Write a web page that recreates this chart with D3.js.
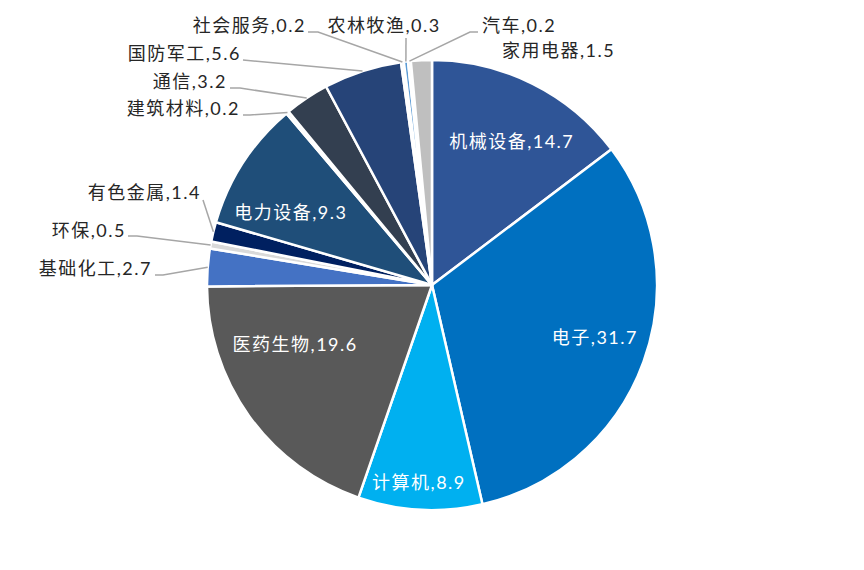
<!DOCTYPE html>
<html>
<head>
<meta charset="utf-8">
<script src="https://cdn.jsdelivr.net/npm/d3@7/dist/d3.min.js"></script>
<style>
html,body{margin:0;padding:0;background:#fff;}
svg text{font-family:"Lato","Noto Sans CJK SC",sans-serif;}
</style>
</head>
<body>
<svg id="chart" width="864" height="570"></svg>
<script>
// ---- data ----
const categories = ["机械设备","电子","计算机","医药生物","基础化工","环保","有色金属","电力设备","建筑材料","通信","国防军工","社会服务","农林牧渔","汽车","家用电器"];
const values = [14.7,31.7,8.9,19.6,2.7,0.5,1.4,9.3,0.2,3.2,5.6,0.2,0.3,0.2,1.5];
const valueLabels = ["14.7","31.7","8.9","19.6","2.7","0.5","1.4","9.3","0.2","3.2","5.6","0.2","0.3","0.2","1.5"];

// ---- styles / layout ----
const colors = ["#2F5597","#0070C0","#00B0F0","#595959","#4472C4","#D9D9D9","#002060","#1F4E79","#DEEBF7","#333F50","#264478","#F2F2F2","#5B9BD5","#F2F2F2","#BFBFBF"];
const cx = 432, cy = 285, R = 225;
// inside labels: polar placement (radius, angle in degrees clockwise from top)
const insideLayout = {
  "机械设备":{r:165,a:28.9},
  "电子":{r:171,a:107.7},
  "计算机":{r:197,a:183.8},
  "医药生物":{r:149,a:246.7},
  "电力设备":{r:159,a:297.4}
};
// outside labels: text anchor point, anchor side, leader start / elbow
const outsideLayout = {
  "基础化工":{tx:152,ty:268,anchor:"end",line:[[155,275],[163,275]]},
  "环保":{tx:126,ty:230,anchor:"end",line:[[128,236],[137,236]]},
  "有色金属":{tx:201,ty:192,anchor:"end",line:[[203,200]]},
  "建筑材料":{tx:240,ty:108,anchor:"end",line:[[243,115],[250,115]]},
  "通信":{tx:227,ty:81,anchor:"end",line:[[230,88],[240,88]]},
  "国防军工":{tx:241,ty:53,anchor:"end",line:[[243,60]]},
  "社会服务":{tx:306,ty:25,anchor:"end",line:[[308,32],[318,32]]},
  "农林牧渔":{tx:384,ty:25,anchor:"middle",line:[[406,38]]},
  "汽车":{tx:482,ty:25,anchor:"start",line:[[478,32],[470,32]]},
  "家用电器":{tx:502,ty:50,anchor:"start",line:null}
};

const svg = d3.select("#chart");
const g = svg.append("g").attr("transform",`translate(${cx},${cy})`);

const data = categories.map((c,i)=>({name:c,value:values[i],label:valueLabels[i],color:colors[i]}));
const pie = d3.pie().sort(null).value(d=>d.value).startAngle(0).endAngle(2*Math.PI);
const arc = d3.arc().innerRadius(0).outerRadius(R);
const arcs = pie(data);

g.selectAll("path.slice").data(arcs).enter().append("path")
  .attr("class","slice")
  .attr("d",arc)
  .attr("fill",d=>d.data.color)
  .attr("stroke","#fff")
  .attr("stroke-width",2.5)
  .attr("stroke-linejoin","round");

const polar = (r,a)=>[Math.sin(a)*r, -Math.cos(a)*r];

// inside labels
arcs.filter(d=>insideLayout[d.data.name]).forEach(d=>{
  const L = insideLayout[d.data.name];
  const [x,y] = polar(L.r, L.a*Math.PI/180);
  g.append("text")
    .attr("x",x).attr("y",y)
    .attr("text-anchor","middle")
    .attr("dominant-baseline","central")
    .attr("fill","#fff")
    .attr("font-size",18)
    .attr("letter-spacing",1.5)
    .text(d.data.name+","+d.data.label);
});

// outside labels
arcs.filter(d=>outsideLayout[d.data.name]).forEach(d=>{
  const L = outsideLayout[d.data.name];
  if(L.line){
    const mid = (d.startAngle+d.endAngle)/2;
    const end = polar(R, mid);
    const pts = L.line.map(p=>[p[0]-cx,p[1]-cy]).concat([end]);
    g.append("path")
      .attr("d",d3.line()(pts))
      .attr("fill","none")
      .attr("stroke","#A6A6A6")
      .attr("stroke-width",1.5);
  }
  g.append("text")
    .attr("x",L.tx-cx).attr("y",L.ty-cy)
    .attr("text-anchor",L.anchor)
    .attr("dominant-baseline","central")
    .attr("fill","#262626")
    .attr("font-size",18)
    .attr("letter-spacing",1.5)
    .text(d.data.name+","+d.data.label);
});
</script>
</body>
</html>
